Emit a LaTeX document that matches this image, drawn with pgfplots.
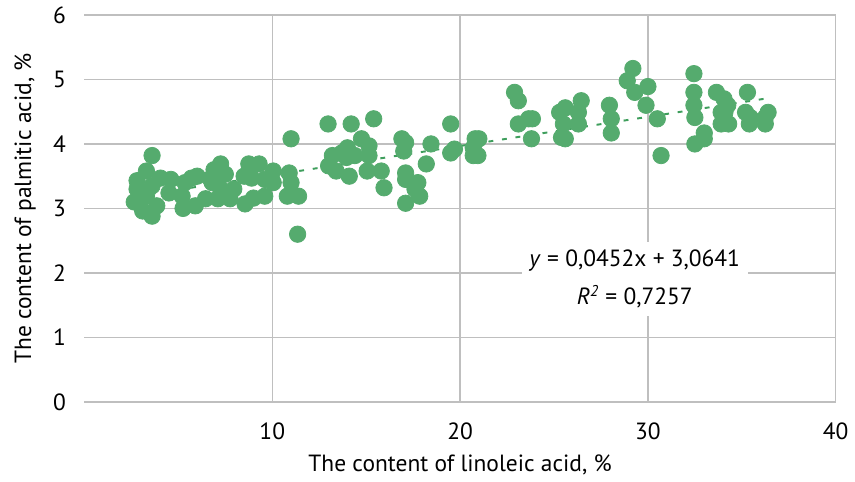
\documentclass[border=0pt]{standalone}
\usepackage{pgfplots}
\pgfplotsset{compat=1.18}
\usepackage{fontspec}
\setmainfont{PT Sans}
\definecolor{dotgreen}{RGB}{85,171,110}
\definecolor{trendgreen}{RGB}{62,158,92}
\definecolor{gridgray}{RGB}{191,191,191}

\pgfplotstableread{
x y
2.65 3.10
2.8 3.43
2.8 3.30
3.1 2.96
3.3 3.58
3.3 3.19
3.6 3.82
3.6 3.35
3.6 2.88
3.85 3.04
4.05 3.47
4.5 3.24
4.6 3.45
5.2 3.19
5.25 3.00
5.35 3.40
5.7 3.47
5.9 3.04
6.0 3.50
6.45 3.15
6.7 3.46
6.8 3.40
6.9 3.60
7.1 3.15
7.25 3.69
7.25 3.30
7.5 3.53
7.75 3.15
7.95 3.30
8.5 3.50
8.55 3.07
8.75 3.69
8.9 3.47
9.0 3.16
9.3 3.69
9.6 3.45
9.6 3.19
10.05 3.58
10.05 3.40
11.0 4.08
10.9 3.55
11.0 3.40
10.8 3.19
11.4 3.19
11.35 2.60
12.97 4.31
14.2 4.31
15.4 4.39
13.2 3.82
13.0 3.66
13.4 3.58
13.7 3.86
14.0 3.94
13.95 3.79
14.1 3.50
14.4 3.82
14.75 4.08
15.15 3.97
15.15 3.82
15.05 3.58
15.8 3.58
15.95 3.32
16.9 4.08
17.0 3.89
17.1 4.02
17.1 3.55
17.1 3.45
17.1 3.08
18.45 4.00
18.2 3.69
17.75 3.40
17.6 3.30
17.85 3.19
19.5 4.31
19.5 3.86
19.7 3.92
20.8 4.08
20.7 3.94
20.7 3.82
20.95 3.82
21.0 4.08
22.9 4.80
23.1 4.67
23.1 4.31
23.65 4.39
23.85 4.39
23.8 4.08
25.3 4.49
25.6 4.56
25.5 4.31
25.6 4.08
25.4 4.10
26.45 4.67
26.3 4.49
26.3 4.31
27.95 4.60
28.05 4.39
28.05 4.17
28.9 4.98
29.2 5.17
29.3 4.80
30.0 4.89
29.9 4.60
30.5 4.39
30.7 3.82
32.45 5.09
32.45 4.80
32.45 4.60
32.5 4.41
32.5 4.00
33.0 4.17
33.0 4.08
33.65 4.80
34.05 4.70
34.25 4.60
33.9 4.49
34.1 4.49
33.9 4.31
34.3 4.31
35.3 4.80
35.2 4.49
35.45 4.41
35.4 4.31
36.25 4.31
36.4 4.49
36.25 4.41
}\datatable

\begin{document}
\begin{tikzpicture}
\begin{axis}[
  width=384.5pt, height=198pt, scale only axis,
  xmin=0, xmax=40, ymin=0, ymax=6,
  xtick={10,20,30,40}, ytick={0,1,2,3,4,5,6},
  grid=major,
  grid style={gridgray, line width=0.75pt},
  axis line style={draw=none},
  major tick length=0pt,
  tick label style={font=\fontsize{12}{14}\selectfont},
  /pgf/number format/assume math mode=true,
  xticklabel style={yshift=-7pt},
  yticklabel style={xshift=-6pt},
  xlabel={The content of linoleic acid, \%},
  ylabel={The content of palmitic acid, \%},
  label style={font=\fontsize{12}{14}\selectfont},
  xlabel style={yshift=-1pt},
  ylabel style={yshift=2pt},
  clip=false,
]
\addplot[only marks, mark=*, mark size=4.2pt, color=dotgreen] table {\datatable};
\addplot[trendgreen, line width=1pt, dash pattern=on 2.5pt off 4.5pt]
  coordinates {(2.8,3.1907) (36.4,4.7094)};
\node[fill=white, inner sep=4pt, align=center,
  font=\fontsize{12}{19.5}\selectfont]
  at (axis cs:29.3,1.9) {\textit{y} = 0,0452x + 3,0641\\\textit{R}\textsuperscript{\textit{2}} = 0,7257};
\end{axis}
\path (current bounding box.south west) -- ++(-4pt,0);
\end{tikzpicture}
\end{document}
